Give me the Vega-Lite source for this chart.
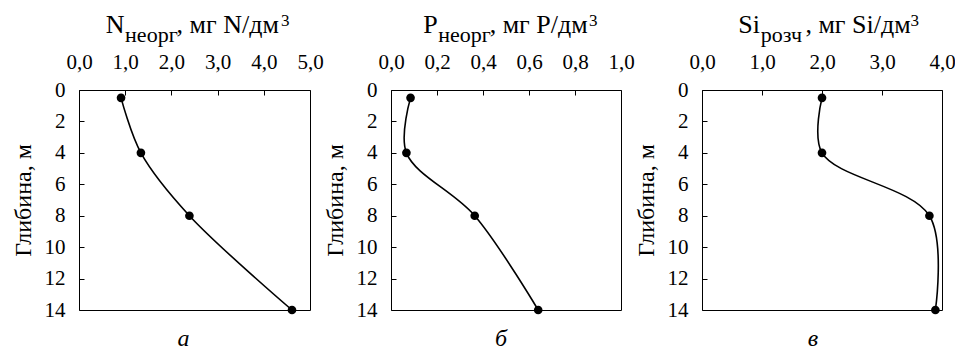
{
  "$schema": "https://vega.github.io/schema/vega-lite/v6.json",
  "autosize": {"type": "pad"},
  "padding": {"left": 10, "top": 10, "right": 0, "bottom": 0},
  "spacing": 81,
  "bounds": "flush",
  "datasets": {
    "n": [{"depth": 0.5, "value": 0.91}, {"depth": 4, "value": 1.34}, {"depth": 8, "value": 2.39}, {"depth": 14, "value": 4.61}],
    "p": [{"depth": 0.5, "value": 0.085}, {"depth": 4, "value": 0.067}, {"depth": 8, "value": 0.364}, {"depth": 14, "value": 0.64}],
    "si": [{"depth": 0.5, "value": 2.0}, {"depth": 4, "value": 2.0}, {"depth": 8, "value": 3.79}, {"depth": 14, "value": 3.89}]
  },
  "hconcat": [
    {
      "width": 231, "height": 220,
      "title": {"text": "а", "orient": "bottom", "anchor": "middle", "frame": "group", "offset": 26, "baseline": "alphabetic", "dx": -11, "font": "Liberation Serif", "fontStyle": "italic", "fontWeight": "normal", "fontSize": 24, "color": "black"},
      "data": {"name": "n"},
      "layer": [
        {
          "mark": {"type": "line", "interpolate": "catmull-rom", "color": "black", "strokeWidth": 1.6},
          "encoding": {
            "x": {"field": "value", "type": "quantitative", "scale": {"domain": [0, 5]},
              "axis": {"orient": "top", "values": [0, 1, 2, 3, 4, 5], "labelExpr": "replace(format(datum.value, '.1f'), '.', ',')", "tickSize": -5, "labelPadding": 23, "labelFont": "Liberation Serif", "labelFontSize": 21,
                "title": "N\u00a0\u00a0\u00a0\u00a0\u00a0\u00a0\u00a0\u00a0, мг N/дм", "titleFont": "Liberation Serif", "titleFontSize": 26, "titleAlign": "left", "titleBaseline": "alphabetic", "titleX": 26.3, "titleY": -58}},
            "y": {"field": "depth", "type": "quantitative", "scale": {"domain": [0, 14], "reverse": true},
              "axis": {"orient": "left", "values": [0, 2, 4, 6, 8, 10, 12, 14], "tickSize": -5, "labelPadding": 19, "labelFont": "Liberation Serif", "labelFontSize": 21,
                "title": "Глибина, м", "titleFont": "Liberation Serif", "titleFontSize": 24, "titleAngle": -90, "titleBaseline": "middle", "titleAlign": "center", "titleX": -56, "titleY": 110}},
            "order": {"field": "depth"}
          }
        },
        {
          "mark": {"type": "point", "filled": true, "color": "black", "size": 75, "opacity": 1},
          "encoding": {
            "x": {"field": "value", "type": "quantitative", "scale": {"domain": [0, 5]},
              "axis": {"orient": "top", "labels": false, "ticks": false, "title": "неорг", "titleFont": "Liberation Serif", "titleFontSize": 22, "titleAlign": "left", "titleBaseline": "alphabetic", "titleX": 45.6, "titleY": -49}},
            "y": {"field": "depth", "type": "quantitative", "scale": {"domain": [0, 14], "reverse": true},
              "axis": {"orient": "right", "labels": false, "ticks": false, "title": "3", "titleFont": "Liberation Serif", "titleAngle": 0, "titleFontSize": 17, "titleAlign": "left", "titleBaseline": "alphabetic", "titleX": -29.5, "titleY": -65}}
          }
        }
      ],
      "resolve": {"axis": {"x": "independent", "y": "independent"}}
    },
    {
      "width": 230, "height": 220,
      "title": {"text": "б", "orient": "bottom", "anchor": "middle", "frame": "group", "offset": 26, "baseline": "alphabetic", "dx": -5, "font": "Liberation Serif", "fontStyle": "italic", "fontWeight": "normal", "fontSize": 24, "color": "black"},
      "data": {"name": "p"},
      "layer": [
        {
          "mark": {"type": "line", "interpolate": "catmull-rom", "color": "black", "strokeWidth": 1.6},
          "encoding": {
            "x": {"field": "value", "type": "quantitative", "scale": {"domain": [0, 1]},
              "axis": {"orient": "top", "values": [0, 0.2, 0.4, 0.6, 0.8, 1], "labelExpr": "replace(format(datum.value, '.1f'), '.', ',')", "tickSize": -5, "labelPadding": 23, "labelFont": "Liberation Serif", "labelFontSize": 21,
                "title": "P\u00a0\u00a0\u00a0\u00a0\u00a0\u00a0\u00a0\u00a0, мг P/дм", "titleFont": "Liberation Serif", "titleFontSize": 26, "titleAlign": "left", "titleBaseline": "alphabetic", "titleX": 31.7, "titleY": -58}},
            "y": {"field": "depth", "type": "quantitative", "scale": {"domain": [0, 14], "reverse": true},
              "axis": {"orient": "left", "values": [0, 2, 4, 6, 8, 10, 12, 14], "tickSize": -5, "labelPadding": 19, "labelFont": "Liberation Serif", "labelFontSize": 21,
                "title": "Глибина, м", "titleFont": "Liberation Serif", "titleFontSize": 24, "titleAngle": -90, "titleBaseline": "middle", "titleAlign": "center", "titleX": -56, "titleY": 110}},
            "order": {"field": "depth"}
          }
        },
        {
          "mark": {"type": "point", "filled": true, "color": "black", "size": 75, "opacity": 1},
          "encoding": {
            "x": {"field": "value", "type": "quantitative", "scale": {"domain": [0, 1]},
              "axis": {"orient": "top", "labels": false, "ticks": false, "title": "неорг", "titleFont": "Liberation Serif", "titleFontSize": 22, "titleAlign": "left", "titleBaseline": "alphabetic", "titleX": 46.7, "titleY": -49}},
            "y": {"field": "depth", "type": "quantitative", "scale": {"domain": [0, 14], "reverse": true},
              "axis": {"orient": "right", "labels": false, "ticks": false, "title": "3", "titleFont": "Liberation Serif", "titleAngle": 0, "titleFontSize": 17, "titleAlign": "left", "titleBaseline": "alphabetic", "titleX": -32.6, "titleY": -65}}
          }
        }
      ],
      "resolve": {"axis": {"x": "independent", "y": "independent"}}
    },
    {
      "width": 240, "height": 220,
      "title": {"text": "в", "orient": "bottom", "anchor": "middle", "frame": "group", "offset": 26, "baseline": "alphabetic", "dx": -9, "font": "Liberation Serif", "fontStyle": "italic", "fontWeight": "normal", "fontSize": 24, "color": "black"},
      "data": {"name": "si"},
      "layer": [
        {
          "mark": {"type": "line", "interpolate": "catmull-rom", "color": "black", "strokeWidth": 1.6},
          "encoding": {
            "x": {"field": "value", "type": "quantitative", "scale": {"domain": [0, 4]},
              "axis": {"orient": "top", "values": [0, 1, 2, 3, 4], "labelExpr": "replace(format(datum.value, '.1f'), '.', ',')", "tickSize": -5, "labelPadding": 23, "labelFont": "Liberation Serif", "labelFontSize": 21,
                "title": "Si\u00a0\u00a0\u00a0\u00a0\u00a0\u00a0\u00a0, мг Si/дм", "titleFont": "Liberation Serif", "titleFontSize": 26, "titleAlign": "left", "titleBaseline": "alphabetic", "titleX": 35.7, "titleY": -58}},
            "y": {"field": "depth", "type": "quantitative", "scale": {"domain": [0, 14], "reverse": true},
              "axis": {"orient": "left", "values": [0, 2, 4, 6, 8, 10, 12, 14], "tickSize": -5, "labelPadding": 19, "labelFont": "Liberation Serif", "labelFontSize": 21,
                "title": "Глибина, м", "titleFont": "Liberation Serif", "titleFontSize": 24, "titleAngle": -90, "titleBaseline": "middle", "titleAlign": "center", "titleX": -56, "titleY": 110}},
            "order": {"field": "depth"}
          }
        },
        {
          "mark": {"type": "point", "filled": true, "color": "black", "size": 75, "opacity": 1},
          "encoding": {
            "x": {"field": "value", "type": "quantitative", "scale": {"domain": [0, 4]},
              "axis": {"orient": "top", "labels": false, "ticks": false, "title": "розч", "titleFont": "Liberation Serif", "titleFontSize": 22, "titleAlign": "left", "titleBaseline": "alphabetic", "titleX": 58.2, "titleY": -49}},
            "y": {"field": "depth", "type": "quantitative", "scale": {"domain": [0, 14], "reverse": true},
              "axis": {"orient": "right", "labels": false, "ticks": false, "title": "3", "titleFont": "Liberation Serif", "titleAngle": 0, "titleFontSize": 17, "titleAlign": "left", "titleBaseline": "alphabetic", "titleX": -32, "titleY": -65}}
          }
        }
      ],
      "resolve": {"axis": {"x": "independent", "y": "independent"}}
    }
  ],
  "config": {
    "font": "Liberation Serif",
    "view": {"stroke": "black", "strokeWidth": 1},
    "axis": {"labelColor": "black", "titleColor": "black", "titleFontWeight": "normal", "tickColor": "black", "tickWidth": 1, "labelFlush": false, "labelOverlap": false, "grid": false, "domain": false}
  }
}
